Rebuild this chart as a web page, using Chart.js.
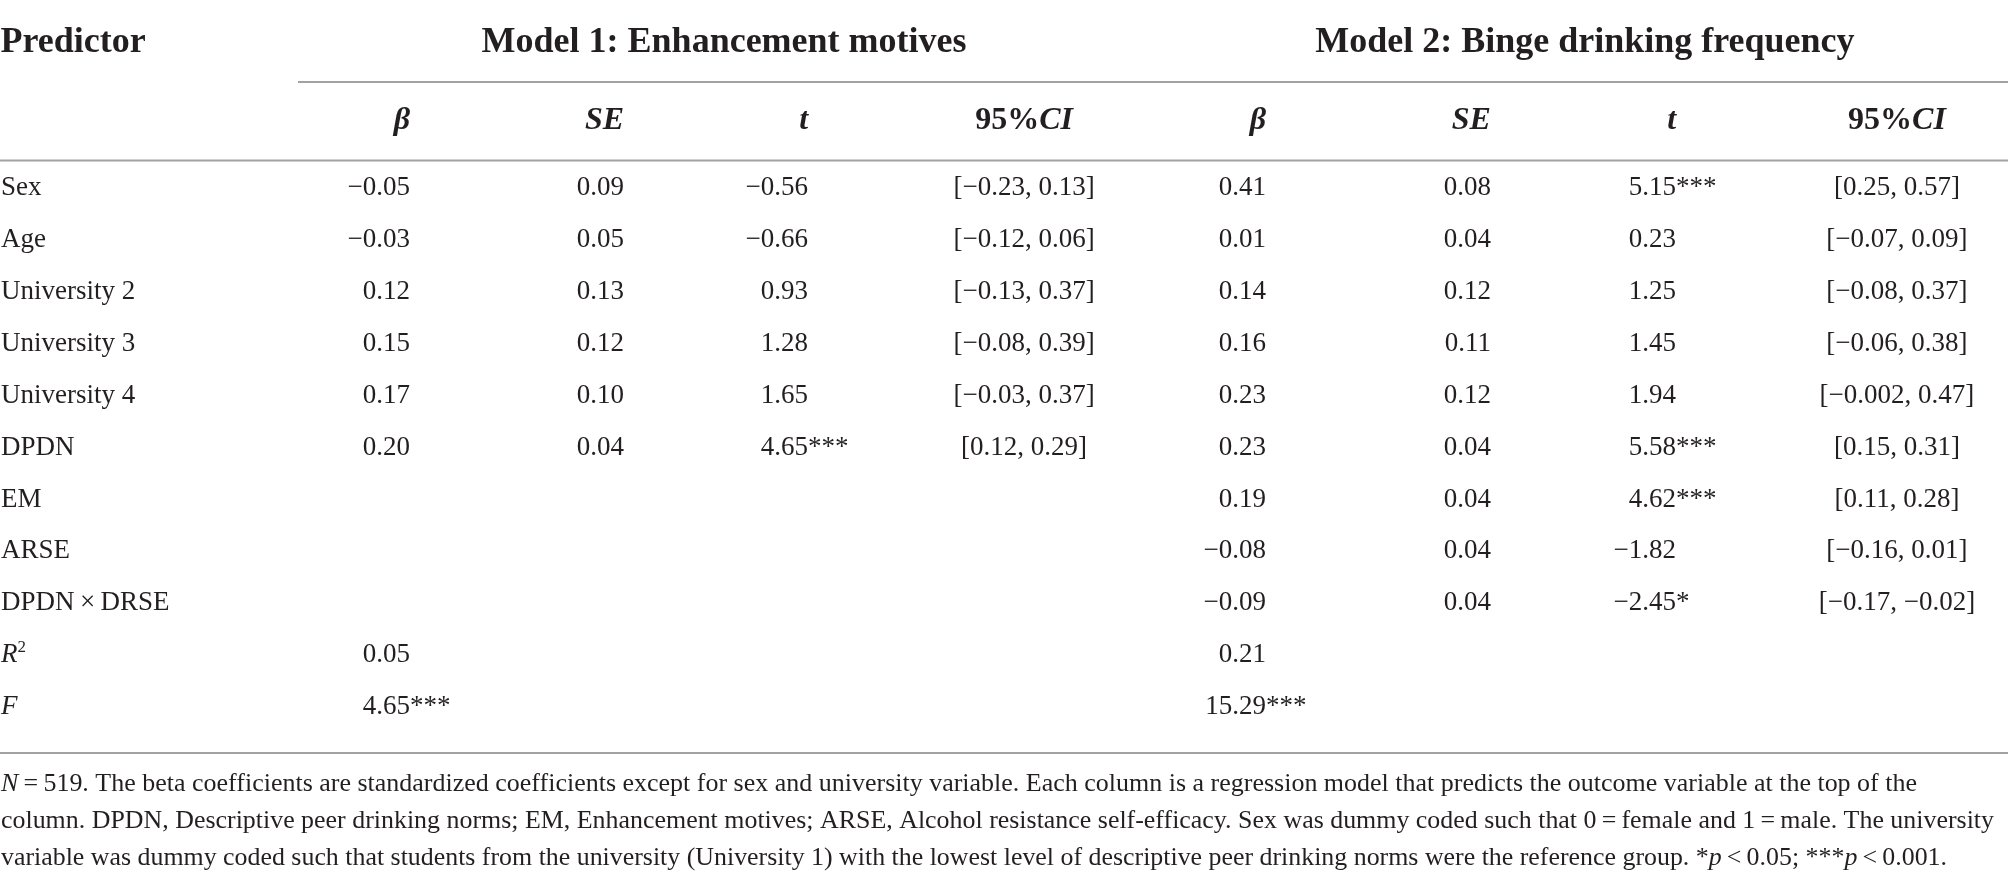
<!DOCTYPE html>
<html>
<head>
<meta charset="utf-8">
<script src="https://cdn.jsdelivr.net/npm/chart.js@4.4.1/dist/chart.umd.min.js"></script>
<style>
html,body{margin:0;padding:0;background:#ffffff;}
#wrap{width:2008px;height:882px;position:relative;overflow:hidden;}
canvas{display:block;}
</style>
</head>
<body>
<div id="wrap"><canvas id="c" width="2008" height="882"></canvas></div>
<script>
// ---------------- DATA ----------------
const predictors = ["Sex","Age","University 2","University 3","University 4","DPDN","EM","ARSE","DPDN\u2009\u00d7\u2009DRSE","R\u00b2","F"];

const columnHeads = ["\u03b2","SE","t","95%CI","\u03b2","SE","t","95%CI"];
const modelTitles = ["Model 1: Enhancement motives","Model 2: Binge drinking frequency"];

// Model 1: Enhancement motives
const m1Beta      = [-0.05,-0.03,0.12,0.15,0.17,0.20,null,null,null,0.05,4.65];
const m1BetaStars = ["","","","","","","","","","","***"];
const m1SE        = [0.09,0.05,0.13,0.12,0.10,0.04,null,null,null,null,null];
const m1T         = [-0.56,-0.66,0.93,1.28,1.65,4.65,null,null,null,null,null];
const m1TStars    = ["","","","","","***","","","","",""];
const m1CILow     = [-0.23,-0.12,-0.13,-0.08,-0.03,0.12,null,null,null,null,null];
const m1CIHigh    = [0.13,0.06,0.37,0.39,0.37,0.29,null,null,null,null,null];

// Model 2: Binge drinking frequency
const m2Beta      = [0.41,0.01,0.14,0.16,0.23,0.23,0.19,-0.08,-0.09,0.21,15.29];
const m2BetaStars = ["","","","","","","","","","","***"];
const m2SE        = [0.08,0.04,0.12,0.11,0.12,0.04,0.04,0.04,0.04,null,null];
const m2T         = [5.15,0.23,1.25,1.45,1.94,5.58,4.62,-1.82,-2.45,null,null];
const m2TStars    = ["***","","","","","***","***","","*","",""];
const m2CILow     = [0.25,-0.07,-0.08,-0.06,-0.002,0.15,0.11,-0.16,-0.17,null,null];
const m2CIHigh    = [0.57,0.09,0.37,0.38,0.47,0.31,0.28,0.01,-0.02,null,null];

const footnoteLines = [
  [{t:"N",i:1},{t:"\u2009=\u2009519. The beta coefficients are standardized coefficients except for sex and university variable. Each column is a regression model that predicts the outcome variable at the top of the"}],
  [{t:"column. DPDN, Descriptive peer drinking norms; EM, Enhancement motives; ARSE, Alcohol resistance self-efficacy. Sex was dummy coded such that 0\u2009=\u2009female and 1\u2009=\u2009male. The university"}],
  [{t:"variable was dummy coded such that students from the university (University 1) with the lowest level of descriptive peer drinking norms were the reference group. *"},{t:"p",i:1},{t:"\u2009<\u20090.05; ***"},{t:"p",i:1},{t:"\u2009<\u20090.001."}]
];

// ---------------- LAYOUT (per-mille of width) ----------------
const colAnchor  = [0.5, 204.2, 310.8, 402.4, 510.0, 630.5, 742.5, 834.7, 944.7];
const colAlign   = ["left","right","right","right","center","right","right","right","center"];
const modelCenter = [360.6, 789.3];
const spanStart = 148.4;
const footWidths = [1916, 1993, 1946];

const FONT = '"Liberation Serif","DejaVu Serif","Times New Roman",serif';
const INK = '#231f20';
const RULE = '#a2a2a2';

function fmt(v){
  const dec = Math.abs(Math.round(v*100) - v*100) > 1e-6 ? 3 : 2;
  return v.toFixed(dec).replace('-', '\u2212');
}

function cellPoints(col, values, starsArr){
  const pts = [];
  values.forEach((v,i)=>{
    if(v===null) return;
    pts.push({x: colAnchor[col], y: predictors[i], text: fmt(v), stars: starsArr ? starsArr[i] : ""});
  });
  return pts;
}
function ciPoints(col, lo, hi){
  const pts = [];
  lo.forEach((v,i)=>{
    if(v===null) return;
    pts.push({x: colAnchor[col], y: predictors[i], text: "[" + fmt(v) + ", " + fmt(hi[i]) + "]", stars:""});
  });
  return pts;
}

const datasets = [
  {label:"Predictor", col:0, data: predictors.map(p=>({x: colAnchor[0], y: p, text: p, stars:""}))},
  {label:"M1 beta", col:1, data: cellPoints(1, m1Beta, m1BetaStars)},
  {label:"M1 SE",   col:2, data: cellPoints(2, m1SE)},
  {label:"M1 t",    col:3, data: cellPoints(3, m1T, m1TStars)},
  {label:"M1 CI",   col:4, data: ciPoints(4, m1CILow, m1CIHigh)},
  {label:"M2 beta", col:5, data: cellPoints(5, m2Beta, m2BetaStars)},
  {label:"M2 SE",   col:6, data: cellPoints(6, m2SE)},
  {label:"M2 t",    col:7, data: cellPoints(7, m2T, m2TStars)},
  {label:"M2 CI",   col:8, data: ciPoints(8, m2CILow, m2CIHigh)}
].map(d=>Object.assign(d,{pointRadius:0, pointHoverRadius:0, showLine:false}));

function drawRuns(ctx, runs, x, y, align, size, bold, targetW){
  const fontFor = r => (r.i?'italic ':'') + ((r.b||bold)?'bold ':'') + (r.sup?Math.round(size*0.62):size) + 'px ' + FONT;
  let w = 0;
  runs.forEach(r=>{ctx.font = fontFor(r); r.w = ctx.measureText(r.t).width; w += r.w;});
  const sx = targetW ? targetW / w : 1;
  const start = align==='right' ? x - w*sx : (align==='center' ? x - w*sx/2 : x);
  ctx.save();
  ctx.translate(start, y);
  ctx.scale(sx, 1);
  ctx.textAlign = 'left';
  ctx.textBaseline = 'middle';
  let cx = 0;
  runs.forEach(r=>{
    ctx.font = fontFor(r);
    ctx.fillText(r.t, cx, r.sup ? -size*0.3 : 0);
    cx += r.w;
  });
  ctx.restore();
}

function hline(ctx, x0, x1, y){
  ctx.save();
  ctx.strokeStyle = RULE;
  ctx.lineWidth = 2;
  ctx.beginPath();
  ctx.moveTo(x0, y); ctx.lineTo(x1, y);
  ctx.stroke();
  ctx.restore();
}

const tablePlugin = {
  id:'tableText',
  afterDraw(chart){
    const ctx = chart.ctx;
    const xs = chart.scales.x;
    const area = chart.chartArea;
    const W = chart.width;
    ctx.save();
    ctx.fillStyle = INK;

    // top header row
    const yHead = area.top - 119;
    drawRuns(ctx, [{t:"Predictor"}], xs.getPixelForValue(colAnchor[0]) - 0.5, yHead, 'left', 36, true);
    modelTitles.forEach((t,k)=>drawRuns(ctx, [{t}], xs.getPixelForValue(modelCenter[k]), yHead, 'center', 36, true));
    hline(ctx, xs.getPixelForValue(spanStart), W, area.top - 80);

    // sub header row
    const ySub = area.top - 41;
    columnHeads.forEach((h,k)=>{
      const col = k+1;
      let runs;
      if(h === "95%CI") runs = [{t:"95%"},{t:"CI",i:1}];
      else runs = [{t:h,i:1}];
      drawRuns(ctx, runs, xs.getPixelForValue(colAnchor[col]), ySub, colAlign[col], 32, true);
    });
    hline(ctx, 0, W, area.top - 1.5);

    // body cells, placed by the library's scales
    chart.data.datasets.forEach((ds, di)=>{
      const meta = chart.getDatasetMeta(di);
      meta.data.forEach((el, i)=>{
        const p = ds.data[i];
        const align = colAlign[ds.col];
        let runs;
        if(ds.col === 0){
          if(p.text === "R\u00b2") runs = [{t:"R",i:1},{t:"2",sup:1}];
          else if(p.text === "F") runs = [{t:"F",i:1}];
          else runs = [{t:p.text}];
        } else runs = [{t:p.text}];
        drawRuns(ctx, runs, el.x, el.y, align, 27, false);
        if(p.stars){
          drawRuns(ctx, [{t:p.stars}], el.x, el.y, 'left', 27, false);
        }
      });
    });

    // bottom rule and footnote
    const yRule = area.bottom + 20;
    hline(ctx, 0, W, yRule);
    footnoteLines.forEach((runs, k)=>{
      drawRuns(ctx, runs, 1, yRule + 31 + k*37, 'left', 25, false, footWidths[k]);
    });
    ctx.restore();
  }
};

new Chart(document.getElementById('c'), {
  type:'scatter',
  data:{datasets},
  options:{
    responsive:false,
    animation:false,
    events:[],
    layout:{padding:{top:162, bottom:149, left:0, right:0}},
    plugins:{legend:{display:false}, tooltip:{enabled:false}},
    scales:{
      x:{type:'linear', min:0, max:1000, display:false},
      y:{type:'category', labels:predictors, offset:true, display:false}
    }
  },
  plugins:[tablePlugin]
});
</script>
</body>
</html>
